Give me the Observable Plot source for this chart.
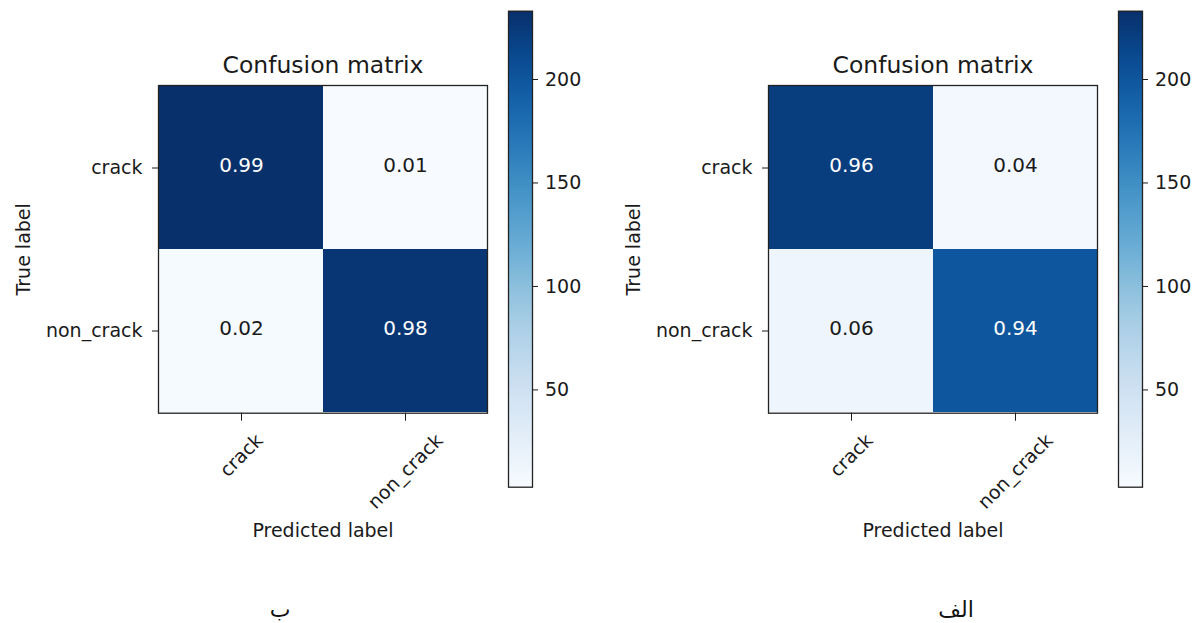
<!DOCTYPE html>
<html>
<head>
<meta charset="utf-8">
<script src="https://cdn.jsdelivr.net/npm/d3@7"></script>
<script src="https://cdn.jsdelivr.net/npm/@observablehq/plot@0.6"></script>
<style>
  body { margin: 0; background: #fff; }
  #root { position: relative; width: 1198px; height: 623px; overflow: hidden; font-family: "DejaVu Sans", sans-serif; }
  #root svg { max-width: none !important; }
  .abs { position: absolute; top: 0; }
  .tag { position: absolute; font-family: "Times New Roman", "DejaVu Sans", serif; font-size: 22px; line-height: 22px; color: #111; transform: translateX(-50%); white-space: nowrap; direction: rtl; }
</style>
</head>
<body>
<div id="root"></div>
<script>
// ---- data ----
const classes = ["crack", "non_crack"];          // true / predicted labels
const leftCounts = [233, 3, 5, 228];             // row-major counts (colour), panel "ب"
const leftRates = [0.99, 0.01, 0.02, 0.98];      // normalised values printed in cells
const rightCounts = [222, 9, 13, 200];           // row-major counts (colour), panel "الف"
const rightRates = [0.96, 0.04, 0.06, 0.94];
const colorbarRange = [3, 233];                  // colour bar extent
const colorbarTicks = [50, 100, 150, 200];
const panelTags = ["ب", "الف"];
const titleText = "Confusion matrix";
const xTitle = "Predicted label";
const yTitle = "True label";

const FONT = '"DejaVu Sans", sans-serif';
const INK = "#1a1a1a";

function xLabelMarks() {
  const ctx = document.createElement("canvas").getContext("2d");
  ctx.font = '19px "DejaVu Sans"';
  return classes.map(c => {
    const w = ctx.measureText(c).width;
    const half = (w + 0.76 * 19) * Math.SQRT1_2 / 2;
    return Plot.text([c], {
      x: d => d, frameAnchor: "bottom", rotate: -45,
      textAnchor: "middle", lineAnchor: "middle",
      dy: 19 + half, fontSize: 19, fill: INK
    });
  });
}

function matrixPlot(counts, rates) {
  const cells = [];
  classes.forEach((t, i) => classes.forEach((p, j) =>
    cells.push({truth: t, pred: p, count: counts[i * classes.length + j], rate: rates[i * classes.length + j]})));
  const thresh = d3.max(counts) / 2;
  const svg = Plot.plot({
    width: 500, height: 560,
    marginLeft: 158, marginRight: 13, marginTop: 85, marginBottom: 147.3,
    style: {fontFamily: FONT, fontSize: "19px", color: INK, background: "transparent"},
    x: {type: "band", domain: classes, padding: 0},
    y: {type: "band", domain: classes, padding: 0},
    color: {type: "linear", scheme: "blues", domain: colorbarRange},
    marks: [
      Plot.cell(cells, {x: "pred", y: "truth", fill: "count", inset: 0}),
      Plot.text(cells, {filter: d => d.count > thresh, x: "pred", y: "truth", text: d => d.rate.toFixed(2),
        fill: "white", fontSize: 20, dy: -2, ariaLabel: "cellvalue"}),
      Plot.text(cells, {filter: d => d.count <= thresh, x: "pred", y: "truth", text: d => d.rate.toFixed(2),
        fill: INK, fontSize: 20, dy: -2, ariaLabel: "cellvalue"}),
      Plot.frame({stroke: "#222", strokeWidth: 1.3}),
      Plot.axisY({tickSize: 6, tickPadding: 10, fontSize: 19, label: null, stroke: INK}),
      Plot.axisX({tickSize: 8, tickFormat: () => "", label: null, stroke: INK}),
      ...xLabelMarks(),
      Plot.text([titleText], {frameAnchor: "top", dy: -12.5, lineAnchor: "bottom", fontSize: 23.5, fill: INK}),
      Plot.text([yTitle], {frameAnchor: "left", rotate: -90, dx: -134.6, textAnchor: "middle", lineAnchor: "middle", fontSize: 19, fill: INK}),
      Plot.text([xTitle], {frameAnchor: "bottom", dy: 124, lineAnchor: "bottom", fontSize: 19, fill: INK})
    ]
  });
  d3.select(svg).selectAll('g[aria-label="cellvalue"] text').style("letter-spacing", "2.2px");
  return svg;
}

function colorbarPlot() {
  const [lo, hi] = colorbarRange;
  const n = 240, step = (hi - lo) / n;
  const slices = d3.range(n).map(i => lo + i * step);
  return Plot.plot({
    width: 98, height: 500,
    marginLeft: 8, marginRight: 66, marginTop: 10.7, marginBottom: 13.3,
    style: {fontFamily: FONT, fontSize: "19px", color: INK, background: "transparent"},
    y: {domain: colorbarRange},
    color: {type: "linear", scheme: "blues", domain: colorbarRange},
    marks: [
      Plot.rect(slices, {y1: d => d, y2: d => Math.min(hi, d + step * 1.5), fill: d => d + step / 2, shapeRendering: "crispEdges"}),
      Plot.frame({stroke: "#222", strokeWidth: 1.3}),
      Plot.axisY({anchor: "right", ticks: colorbarTicks, tickFormat: d3.format("d"), tickSize: 5, tickPadding: 7.5, fontSize: 19, label: null, stroke: INK})
    ]
  });
}

const root = document.getElementById("root");
const panels = [
  {counts: leftCounts, rates: leftRates, left: 0, tag: panelTags[0], tagX: 280},
  {counts: rightCounts, rates: rightRates, left: 610, tag: panelTags[1], tagX: 956}
];
panels.forEach(p => {
  const m = document.createElement("div");
  m.className = "abs"; m.style.left = p.left + "px"; m.style.width = "500px";
  m.appendChild(matrixPlot(p.counts, p.rates));
  root.appendChild(m);
  const cb = document.createElement("div");
  cb.className = "abs"; cb.style.left = (p.left + 500) + "px"; cb.style.width = "98px";
  cb.appendChild(colorbarPlot());
  root.appendChild(cb);
  const t = document.createElement("div");
  t.className = "tag"; t.style.left = p.tagX + "px"; t.style.top = "599px";
  t.textContent = p.tag;
  root.appendChild(t);
});
</script>
</body>
</html>
